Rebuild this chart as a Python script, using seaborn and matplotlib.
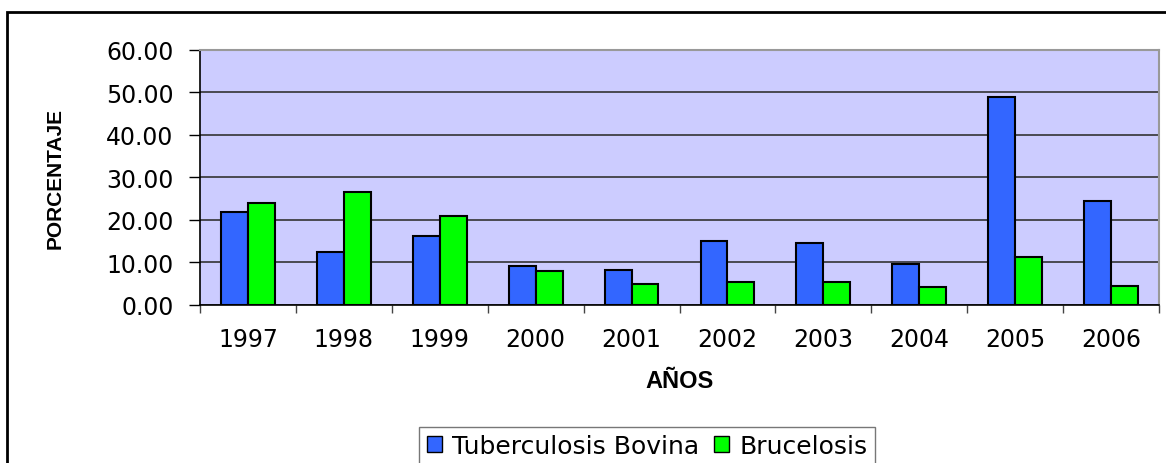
import matplotlib
matplotlib.use('Agg')
import matplotlib.pyplot as plt
import matplotlib.patches as mpatches
import pandas as pd
import seaborn as sns

years = ['1997', '1998', '1999', '2000', '2001', '2002', '2003', '2004', '2005', '2006']
tuberculosis = [21.9, 12.5, 16.2, 9.1, 8.3, 15.0, 14.6, 9.6, 48.9, 24.4]
brucelosis = [24.0, 26.6, 20.8, 7.9, 4.9, 5.3, 5.3, 4.2, 11.2, 4.5]
series_names = ['Tuberculosis Bovina', 'Brucelosis']
colors = ['#3366FF', '#00FF00']

df = pd.DataFrame({
    'year': years * 2,
    'value': tuberculosis + brucelosis,
    'serie': [series_names[0]] * len(years) + [series_names[1]] * len(years),
})

sns.set_style('white')
plt.rcParams['font.family'] = ['DejaVu Sans']
plt.rcParams['text.color'] = 'black'
plt.rcParams['axes.labelcolor'] = 'black'
plt.rcParams['xtick.color'] = 'black'
plt.rcParams['ytick.color'] = 'black'

fig = plt.figure(figsize=(11.66, 4.64), dpi=100)
ax = fig.add_axes([200 / 1166, 1 - 306 / 464, 959 / 1166, 255.3 / 464])

sns.barplot(data=df, x='year', y='value', hue='serie', palette=colors,
            width=0.56, gap=0, edgecolor='black', linewidth=1.5,
            saturation=1, ax=ax, legend=False)

ax.set_facecolor('#CCCCFF')
ax.set_ylim(0, 60)
ax.set_xlim(-0.5, len(years) - 0.5)
ax.set_yticks(range(0, 61, 10))
ax.set_yticklabels([f'{v:.2f}' for v in range(0, 61, 10)], fontsize=17)
ax.set_axisbelow(True)
ax.yaxis.grid(True, color='#333333', linewidth=1.2)

# excel style ticks between categories
ax.set_xticks([i - 0.5 for i in range(len(years) + 1)], minor=True)
ax.tick_params(axis='x', which='minor', length=6, width=1, color='#444444', direction='out', bottom=True)
ax.tick_params(axis='x', which='major', length=0, labelsize=17, pad=16)
ax.tick_params(axis='y', which='major', length=8, width=1, color='black', direction='out', left=True, pad=11)

for s in ['top', 'right']:
    ax.spines[s].set_color('#999999')
    ax.spines[s].set_linewidth(1.5)
for s in ['left', 'bottom']:
    ax.spines[s].set_color('black')
    ax.spines[s].set_linewidth(1.2)

ax.set_xlabel('AÑOS', fontsize=17, fontweight='bold', labelpad=13, family='Liberation Sans')
ax.set_ylabel('PORCENTAJE', fontsize=15, fontweight='bold', labelpad=30, family='Liberation Sans')

handles = [mpatches.Patch(facecolor=c, edgecolor='black', linewidth=1) for c in colors]
fig.legend(handles, series_names, loc='center', bbox_to_anchor=(647 / 1166, 1 - 447 / 464),
           ncol=2, fontsize=18, frameon=True, fancybox=False, edgecolor='#555555',
           handlelength=0.6, handleheight=0.6, handletextpad=0.4, columnspacing=0.6,
           borderpad=0.3)

# outer chart border
fig.patches.append(mpatches.Rectangle((7 / 1166, -0.01), 1.1, 1 - 13 / 464 + 0.01,
                                      transform=fig.transFigure, fill=False,
                                      edgecolor='black', linewidth=2))

fig.savefig('out.png', dpi=100)
